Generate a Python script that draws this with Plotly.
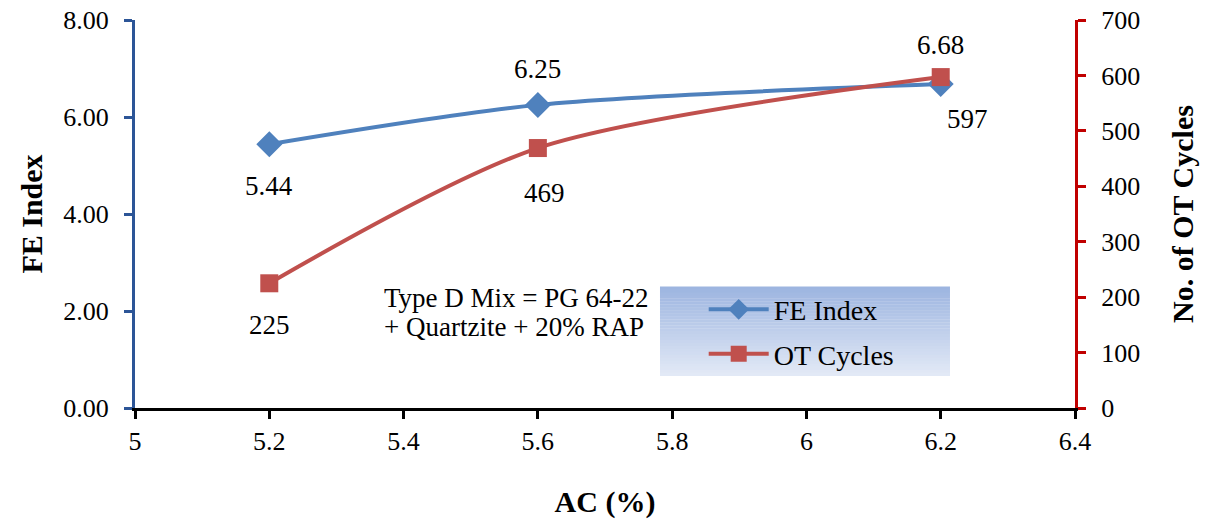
import plotly.graph_objects as go

ac = [5.2, 5.6, 6.2]
fe_index = [5.44, 6.25, 6.68]
ot_cycles = [225, 469, 597]
fe_labels = ["5.44", "6.25", "6.68"]
ot_labels = ["225", "469", "597"]
note_lines = ["Type D Mix = PG 64-22", "+ Quartzite + 20% RAP"]

FONT = "Liberation Serif"
BLUE = "#4F81BD"
RED = "#C0504D"

fig = go.Figure()
fig.add_trace(go.Scatter(
    x=ac, y=fe_index, name="FE Index", mode="lines+markers", legendgroup="fe",
    line=dict(color=BLUE, width=4, shape="spline", smoothing=0.8),
    marker=dict(symbol="diamond", size=20, color=BLUE),
    yaxis="y", cliponaxis=False))
fig.add_trace(go.Scatter(
    x=ac, y=ot_cycles, name="OT Cycles", mode="lines+markers", legendgroup="ot",
    line=dict(color=RED, width=4, shape="spline", smoothing=0.8),
    marker=dict(symbol="square", size=18, color=RED),
    yaxis="y2", cliponaxis=False))

# data labels
fe_shift = [(0, -42), (0, 36), (0, 39)]
ot_shift = [(0, -42), (7, -45), (27, -42)]
for i in range(len(ac)):
    fig.add_annotation(x=ac[i], y=fe_index[i], xref="x", yref="y",
                       text=fe_labels[i], showarrow=False,
                       xshift=fe_shift[i][0], yshift=fe_shift[i][1],
                       font=dict(family=FONT, size=27, color="black"))
    fig.add_annotation(x=ac[i], y=ot_cycles[i], xref="x", yref="y2",
                       text=ot_labels[i], showarrow=False,
                       xshift=ot_shift[i][0], yshift=ot_shift[i][1],
                       font=dict(family=FONT, size=27, color="black"))

for line_text, ypos in zip(note_lines, [0.2835, 0.2088]):
    fig.add_annotation(x=0.263, y=ypos, xref="paper", yref="paper",
                       xanchor="left", yanchor="middle", align="left",
                       text=line_text, showarrow=False,
                       font=dict(family=FONT, size=27, color="black"))

# legend gradient background
x0, x1 = 0.5585, 0.867
y0, y1 = 0.0825, 0.3119
n = 30
top = (157, 181, 224)
bot = (226, 233, 246)
for k in range(n):
    t = k / (n - 1)
    c = tuple(int(round(top[j] + (bot[j] - top[j]) * t)) for j in range(3))
    ya = y1 - (y1 - y0) * k / n
    yb = y1 - (y1 - y0) * (k + 1) / n
    fig.add_shape(type="rect", xref="paper", yref="paper",
                  x0=x0, x1=x1, y0=yb, y1=ya + 0.001,
                  line=dict(width=0), fillcolor="rgb(%d,%d,%d)" % c,
                  layer="below")

fig.update_layout(
    width=1207, height=525,
    margin=dict(l=135, r=132, t=20, b=117, autoexpand=False),
    paper_bgcolor="white", plot_bgcolor="white",
    font=dict(family=FONT, size=26, color="black"),
    showlegend=True,
    legend=dict(x=0.605, y=0.318, xanchor="left", yanchor="top",
                bgcolor="rgba(0,0,0,0)", font=dict(family=FONT, size=28),
                itemwidth=60, tracegroupgap=5),
    xaxis=dict(range=[5, 6.4], dtick=0.2, tick0=5, showgrid=False, zeroline=False,
               showline=True, linecolor="black", linewidth=3, automargin=False,
               ticks="outside", ticklen=8, tickwidth=3, tickcolor="black",
               ticklabelstandoff=0,
               tickfont=dict(family=FONT, size=26),
               title=dict(text="<b>AC (%)</b>", font=dict(family=FONT, size=30), standoff=36)),
    yaxis=dict(range=[0, 8], dtick=2, tickformat=".2f", showgrid=False, zeroline=False,
               showline=True, linecolor="#2C5597", linewidth=3, automargin=False,
               ticks="outside", ticklen=8, tickwidth=3, tickcolor="#2C5597",
               ticklabelstandoff=10,
               tickfont=dict(family=FONT, size=26),
               title=dict(text="<b>FE Index</b>", font=dict(family=FONT, size=30), standoff=12)),
    yaxis2=dict(range=[0, 700], dtick=100, overlaying="y", side="right",
                showgrid=False, zeroline=False, automargin=False,
                showline=True, linecolor="#C00000", linewidth=3,
                ticks="outside", ticklen=8, tickwidth=3, tickcolor="#C00000",
                ticklabelstandoff=10,
                tickfont=dict(family=FONT, size=26),
                title=dict(text="<b>No. of OT Cycles</b>", font=dict(family=FONT, size=30), standoff=33)),
)

fig.write_html("out.html", config={"displayModeBar": False},
               post_script="document.body.style.margin='0';")
